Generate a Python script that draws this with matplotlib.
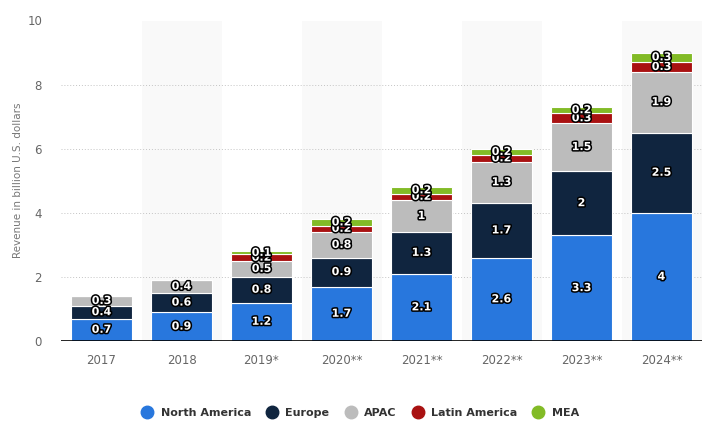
import matplotlib
matplotlib.use("Agg")
import matplotlib.pyplot as plt
import matplotlib.patheffects as pe
from matplotlib.lines import Line2D
import numpy as np

years = ["2017", "2018", "2019*", "2020**", "2021**", "2022**", "2023**", "2024**"]
north_america = [0.7, 0.9, 1.2, 1.7, 2.1, 2.6, 3.3, 4.0]
europe = [0.4, 0.6, 0.8, 0.9, 1.3, 1.7, 2.0, 2.5]
apac = [0.3, 0.4, 0.5, 0.8, 1.0, 1.3, 1.5, 1.9]
latin_america = [0, 0, 0.2, 0.2, 0.2, 0.2, 0.3, 0.3]
mea = [0, 0, 0.1, 0.2, 0.2, 0.2, 0.2, 0.3]

series_names = ["North America", "Europe", "APAC", "Latin America", "MEA"]
series_values = [north_america, europe, apac, latin_america, mea]
colors = ["#2877dd", "#10253f", "#bcbcbc", "#a91111", "#82bb26"]

W, H = 715, 438
fig = plt.figure(figsize=(W / 100, H / 100), dpi=100)
ax = fig.add_axes([61.5 / W, 1 - 341 / H, 640 / W, (341 - 20.5) / H])

x = np.arange(len(years))
bar_w = 61 / 80

# alternating background bands
for i in x:
    if i % 2 == 1:
        ax.axvspan(i - 0.5, i + 0.5, color="#f9f9f9", zorder=0, lw=0)

ax.set_xlim(-0.5, len(years) - 0.5)
ax.set_ylim(0, 10)

ax.yaxis.grid(True, color="#c4c4c4", linestyle=(0, (1, 2)), linewidth=0.7, zorder=1)
ax.set_axisbelow(True)

bottom = np.zeros(len(years))
stroke = [pe.withStroke(linewidth=2.2, foreground="black")]
for name, vals, c in zip(series_names, series_values, colors):
    vals = np.array(vals, dtype=float)
    ax.bar(x, vals, bar_w, bottom=bottom, color=c, edgecolor="white",
           linewidth=0.8, zorder=3, label=name)
    for xi, b, v in zip(x, bottom, vals):
        if v > 0:
            ax.text(xi, b + v / 2, f"{v:g}", ha="center", va="center",
                    color="white", fontsize=8, fontweight="bold",
                    path_effects=stroke, zorder=5)
    bottom += vals

ax.axhline(0, color="black", linewidth=1.2, zorder=4)

for s in ax.spines.values():
    s.set_visible(False)

ax.set_xticks(x)
ax.set_xticklabels(years)
ax.set_yticks(np.arange(0, 11, 2))
ax.tick_params(axis="both", length=0, colors="#666666", labelsize=8.5)
ax.tick_params(axis="x", pad=9)
ax.tick_params(axis="y", pad=14)
ax.set_ylabel("Revenue in billion U.S. dollars", color="#777777", fontsize=7.5, labelpad=3)

handles = [Line2D([0], [0], marker="o", linestyle="none", markersize=9,
                  markerfacecolor=c, markeredgecolor=c) for c in colors]
fig.legend(handles, series_names, loc="center", bbox_to_anchor=(0.5, 1 - 413 / H),
           ncol=5, frameon=False, handletextpad=0.2, columnspacing=0.9,
           labelcolor="#333333", prop={"weight": "bold", "size": 8})

fig.savefig("out.png", dpi=100)
